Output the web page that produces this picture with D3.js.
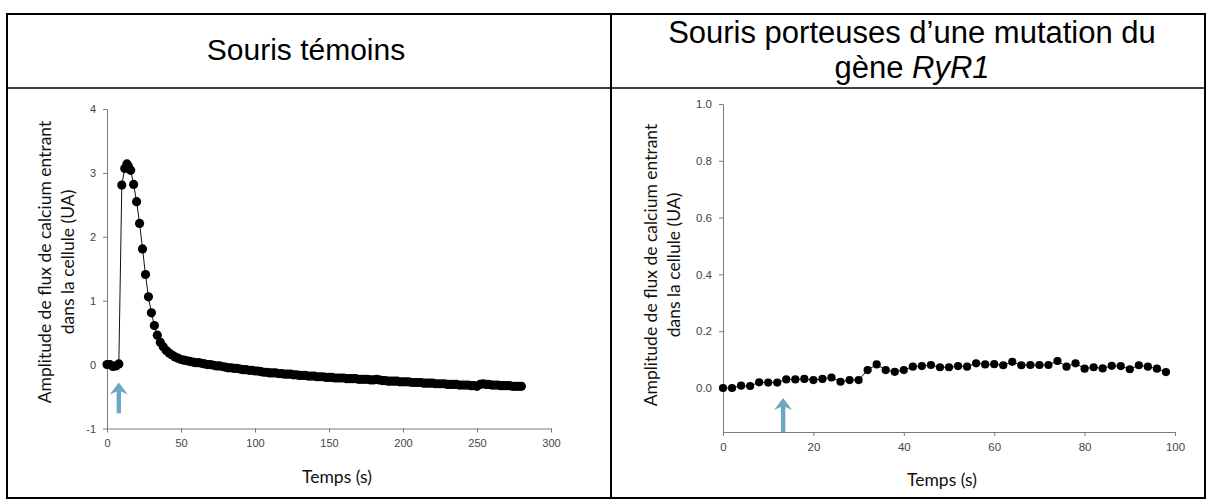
<!DOCTYPE html>
<html>
<head>
<meta charset="utf-8">
<script src="https://cdn.jsdelivr.net/npm/d3@7/dist/d3.min.js"></script>
<style>
  body { margin: 0; background: #fff; }
  .tick text { fill: #444; }
  .domain, .tick line { stroke: #7a7a7a; }
</style>
</head>
<body>
<div id="canvas"></div>
<script>
// TEMOINS : calcium entrant, un point toutes les ~2 s
var timeA = [0, 2, 4, 6, 8, 10, 12, 13.5, 14.5, 16, 18, 20, 22, 24, 26, 28, 30, 32, 34, 36, 38,
  40, 42, 44, 46, 48, 50, 52, 54, 56, 58, 60, 62, 64, 66, 68, 70, 72, 74, 76, 78,
  80, 82, 84, 86, 88, 90, 92, 94, 96, 98, 100, 102, 104, 106, 108, 110, 112, 114, 116, 118,
  120, 122, 124, 126, 128, 130, 132, 134, 136, 138, 140, 142, 144, 146, 148, 150, 152, 154, 156, 158,
  160, 162, 164, 166, 168, 170, 172, 174, 176, 178, 180, 182, 184, 186, 188, 190, 192, 194, 196, 198,
  200, 202, 204, 206, 208, 210, 212, 214, 216, 218, 220, 222, 224, 226, 228, 230, 232, 234, 236, 238,
  240, 242, 244, 246, 248, 250, 252, 254, 256, 258, 260, 262, 264, 266, 268, 270, 272, 274, 276, 278, 280];
var ampA = [0.00, 0.00, -0.03, -0.02, 0.01, 2.81, 3.07, 3.14, 3.10, 3.04, 2.82, 2.55, 2.21, 1.81, 1.41, 1.06, 0.81, 0.61, 0.46, 0.35, 0.28,
  0.22, 0.18, 0.15, 0.12, 0.10, 0.08, 0.07, 0.06, 0.05, 0.04, 0.03, 0.03, 0.02, 0.01, 0.00, 0.00, -0.01, -0.02, -0.02, -0.03,
  -0.04, -0.05, -0.05, -0.06, -0.06, -0.07, -0.08, -0.08, -0.09, -0.09, -0.10, -0.10, -0.11, -0.12, -0.12, -0.13, -0.13, -0.13, -0.14, -0.14,
  -0.15, -0.15, -0.15, -0.16, -0.16, -0.17, -0.17, -0.17, -0.18, -0.18, -0.18, -0.19, -0.19, -0.19, -0.20, -0.20, -0.20, -0.21, -0.21, -0.21,
  -0.21, -0.22, -0.22, -0.22, -0.22, -0.23, -0.23, -0.23, -0.23, -0.24, -0.24, -0.23, -0.24, -0.25, -0.25, -0.26, -0.26, -0.26, -0.26, -0.27,
  -0.27, -0.27, -0.27, -0.28, -0.28, -0.28, -0.28, -0.29, -0.29, -0.29, -0.29, -0.30, -0.30, -0.30, -0.30, -0.31, -0.31, -0.31, -0.31, -0.32,
  -0.32, -0.32, -0.32, -0.33, -0.33, -0.34, -0.31, -0.30, -0.31, -0.31, -0.32, -0.32, -0.32, -0.33, -0.33, -0.33, -0.33, -0.34, -0.34, -0.34, -0.34];

// MUTANTS RyR1
var timeB = [0, 2, 4, 6, 8, 10, 12, 14, 16, 18, 20, 22, 24, 26, 28, 30, 32, 34, 36, 38,
  40, 42, 44, 46, 48, 50, 52, 54, 56, 58, 60, 62, 64, 66, 68, 70, 72, 74, 76, 78,
  80, 82, 84, 86, 88, 90, 92, 94, 96, 98];
var ampB = [0.000, 0.000, 0.008, 0.007, 0.020, 0.019, 0.019, 0.030, 0.030, 0.032, 0.028, 0.032, 0.037, 0.022, 0.028, 0.028, 0.063, 0.083, 0.063, 0.057,
  0.063, 0.075, 0.077, 0.081, 0.073, 0.073, 0.077, 0.075, 0.087, 0.083, 0.084, 0.080, 0.092, 0.080, 0.081, 0.081, 0.081, 0.095, 0.075, 0.087,
  0.068, 0.073, 0.069, 0.078, 0.077, 0.066, 0.080, 0.075, 0.068, 0.056];

var ticksXA = [0, 50, 100, 150, 200, 250, 300];
var ticksYA = [-1, 0, 1, 2, 3, 4];
var ticksXB = [0, 20, 40, 60, 80, 100];
var ticksYB = [0.0, 0.2, 0.4, 0.6, 0.8, 1.0];

// injection (fleche bleue) : [temps, haut, bas] en unites du graphe
var arrowA = [8, -0.28, -0.76];
var arrowB = [13.3, -0.035, -0.155];

var yLabel1 = "Amplitude de flux de calcium entrant";
var yLabel2 = "dans la cellule (UA)";
var xLabel = "Temps (s)";

var w = 1212, h = 501;
var svg = d3.select("#canvas").append("svg")
  .attr("width", w)
  .attr("height", h)
  .style("font-family", "'Liberation Sans', Arial, sans-serif");

// TABLE
svg.append("rect")
  .attr("x", 7).attr("y", 14).attr("width", 1198).attr("height", 484)
  .attr("fill", "none").attr("stroke", "#000").attr("stroke-width", 2);
svg.append("line")
  .attr("x1", 7).attr("x2", 1205).attr("y1", 88).attr("y2", 88)
  .attr("stroke", "#000").attr("stroke-width", 1.5);
svg.append("line")
  .attr("x1", 611).attr("x2", 611).attr("y1", 14).attr("y2", 498)
  .attr("stroke", "#000").attr("stroke-width", 2);

svg.append("text")
  .attr("x", 306).attr("y", 60)
  .attr("text-anchor", "middle")
  .attr("font-size", 30)
  .text("Souris témoins");

var t2 = svg.append("text")
  .attr("text-anchor", "middle")
  .attr("font-size", 31);
t2.append("tspan").attr("x", 912).attr("y", 43).text("Souris porteuses d’une mutation du");
var l2 = t2.append("tspan").attr("x", 912).attr("y", 78).text("gène ");
l2.append("tspan").attr("font-style", "italic").text("RyR1");

function panel(o) {
  var x = d3.scaleLinear().domain(o.xDomain).range(o.xRange);
  var y = d3.scaleLinear().domain(o.yDomain).range(o.yRange);
  var g = svg.append("g");

  g.append("g")
    .attr("transform", `translate(0,${o.yRange[0]})`)
    .call(d3.axisBottom(x).tickValues(o.xTicks).tickSize(4).tickPadding(7).tickSizeOuter(0))
    .call(a => a.selectAll("text").attr("font-size", o.tickFont).attr("font-family", "'Liberation Sans', Arial"));

  g.append("g")
    .attr("transform", `translate(${o.xRange[0]},0)`)
    .call(d3.axisLeft(y).tickValues(o.yTicks).tickSize(4).tickPadding(7).tickSizeOuter(0).tickFormat(o.yFmt))
    .call(a => a.selectAll("text").attr("font-size", o.tickFont).attr("font-family", "'Liberation Sans', Arial"));

  var pts = o.t.map((t, i) => ({ t: t, v: o.v[i] }));

  g.append("path")
    .datum(pts)
    .attr("fill", "none")
    .attr("stroke", "#111")
    .attr("stroke-width", 1)
    .attr("d", d3.line().x(d => x(d.t)).y(d => y(d.v)));

  g.selectAll("circle")
    .data(pts)
    .enter()
    .append("circle")
    .attr("cx", d => x(d.t))
    .attr("cy", d => y(d.v))
    .attr("r", o.r)
    .attr("fill", "#000");

  // fleche bleue
  var ax = x(o.arrow[0]), top = y(o.arrow[1]), bot = y(o.arrow[2]);
  var hw = 9, hh = 12, sw = 2.2;
  g.append("path")
    .attr("d", `M${ax},${top} L${ax + hw},${top + hh} L${ax + sw},${top + hh - 3} L${ax + sw},${bot} L${ax - sw},${bot} L${ax - sw},${top + hh - 3} L${ax - hw},${top + hh} Z`)
    .attr("fill", "#6aa8c2");

  // titres des axes
  var lab = g.append("g")
    .attr("font-family", "Lato, 'Open Sans', sans-serif")
    .attr("font-size", 17.5)
    .attr("fill", "#111");
  lab.append("text")
    .attr("transform", `translate(${o.yLabX},${o.yLabY}) rotate(-90)`)
    .attr("text-anchor", "middle")
    .attr("dy", "0.35em")
    .text(yLabel1);
  lab.append("text")
    .attr("transform", `translate(${o.yLabX + 23},${o.yLabY}) rotate(-90)`)
    .attr("text-anchor", "middle")
    .attr("dy", "0.35em")
    .text(yLabel2);
  lab.append("text")
    .attr("x", o.xLabX).attr("y", o.xLabY)
    .attr("text-anchor", "middle")
    .attr("dy", "0.35em")
    .text(xLabel);
}

panel({
  t: timeA, v: ampA,
  xDomain: [0, 300], xRange: [107, 551],
  yDomain: [-1, 4], yRange: [428.5, 109],
  xTicks: ticksXA, yTicks: ticksYA,
  yFmt: d => String(d),
  tickFont: 11, r: 4.6,
  arrow: arrowA,
  yLabX: 45, yLabY: 262,
  xLabX: 337, xLabY: 477
});

panel({
  t: timeB, v: ampB,
  xDomain: [0, 100], xRange: [723, 1175],
  yDomain: [-0.155, 1.0], yRange: [432, 104],
  xTicks: ticksXB, yTicks: ticksYB,
  yFmt: d3.format(".1f"),
  tickFont: 11.5, r: 4.1,
  arrow: arrowB,
  yLabX: 651, yLabY: 265,
  xLabX: 942, xLabY: 480
});
</script>
</body>
</html>
